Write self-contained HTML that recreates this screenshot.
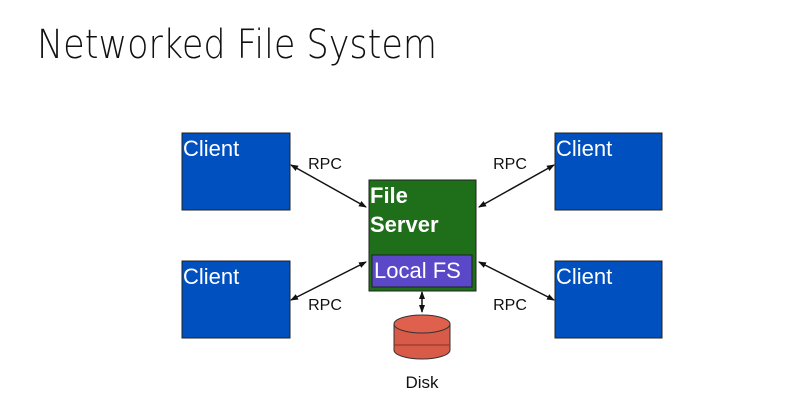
<!DOCTYPE html>
<html><head><meta charset="utf-8"><style>
html,body{margin:0;padding:0;background:#fff;}
svg{display:block;}
</style></head><body>
<svg width="806" height="408" viewBox="0 0 806 408" xmlns="http://www.w3.org/2000/svg">
<defs>
<marker id="a" markerWidth="8" markerHeight="8" refX="7" refY="4" orient="auto-start-reverse" markerUnits="userSpaceOnUse">
<path d="M0,1 L8,4 L0,7 Z" fill="#111"/>
</marker>
</defs>
<text x="37" y="58" font-family="DejaVu Sans, sans-serif" font-weight="200" font-size="40" fill="#111" textLength="400" lengthAdjust="spacingAndGlyphs">Networked File System</text>

<g font-family="Liberation Sans, sans-serif" fill="#fff" font-size="22">
<rect x="182" y="133" width="108" height="77" fill="#0050c0" stroke="#222"/>
<text x="183" y="156">Client</text>
<rect x="182" y="261" width="108" height="77" fill="#0050c0" stroke="#222"/>
<text x="183" y="284">Client</text>
<rect x="555" y="133" width="107" height="77" fill="#0050c0" stroke="#222"/>
<text x="556" y="156">Client</text>
<rect x="555" y="261" width="107" height="77" fill="#0050c0" stroke="#222"/>
<text x="556" y="284">Client</text>

<rect x="369" y="180" width="107" height="111" fill="#1f6e1a" stroke="#222"/>
<text x="370" y="203" font-weight="bold">File</text>
<text x="370" y="232" font-weight="bold">Server</text>
<rect x="372" y="255" width="100" height="32" fill="#5a48c8" stroke="#222"/>
<text x="374" y="278">Local FS</text>
</g>

<g stroke="#111" stroke-width="1.5" fill="none">
<line x1="291" y1="165" x2="366" y2="207" marker-start="url(#a)" marker-end="url(#a)"/>
<line x1="366" y1="262" x2="291" y2="300" marker-start="url(#a)" marker-end="url(#a)"/>
<line x1="479" y1="207" x2="554" y2="165" marker-start="url(#a)" marker-end="url(#a)"/>
<line x1="479" y1="262" x2="554" y2="300" marker-start="url(#a)" marker-end="url(#a)"/>
<line x1="422" y1="292" x2="422" y2="312" marker-start="url(#a)" marker-end="url(#a)"/>
</g>

<g stroke="#333" stroke-width="1">
<path d="M394,324 L394,350 A28,9 0 0 0 450,350 L450,324 Z" fill="#d85a48"/>
<ellipse cx="422" cy="324" rx="28" ry="9" fill="#e0604e"/>
<path d="M394,345 L450,345" fill="none" stroke="#8a3020"/>
</g>

<g font-family="Liberation Sans, sans-serif" font-size="16" fill="#111" text-anchor="middle">
<text x="325" y="169">RPC</text>
<text x="510" y="169">RPC</text>
<text x="325" y="310">RPC</text>
<text x="510" y="310">RPC</text>
<text x="422" y="388" font-size="17">Disk</text>
</g>
</svg>
</body></html>
